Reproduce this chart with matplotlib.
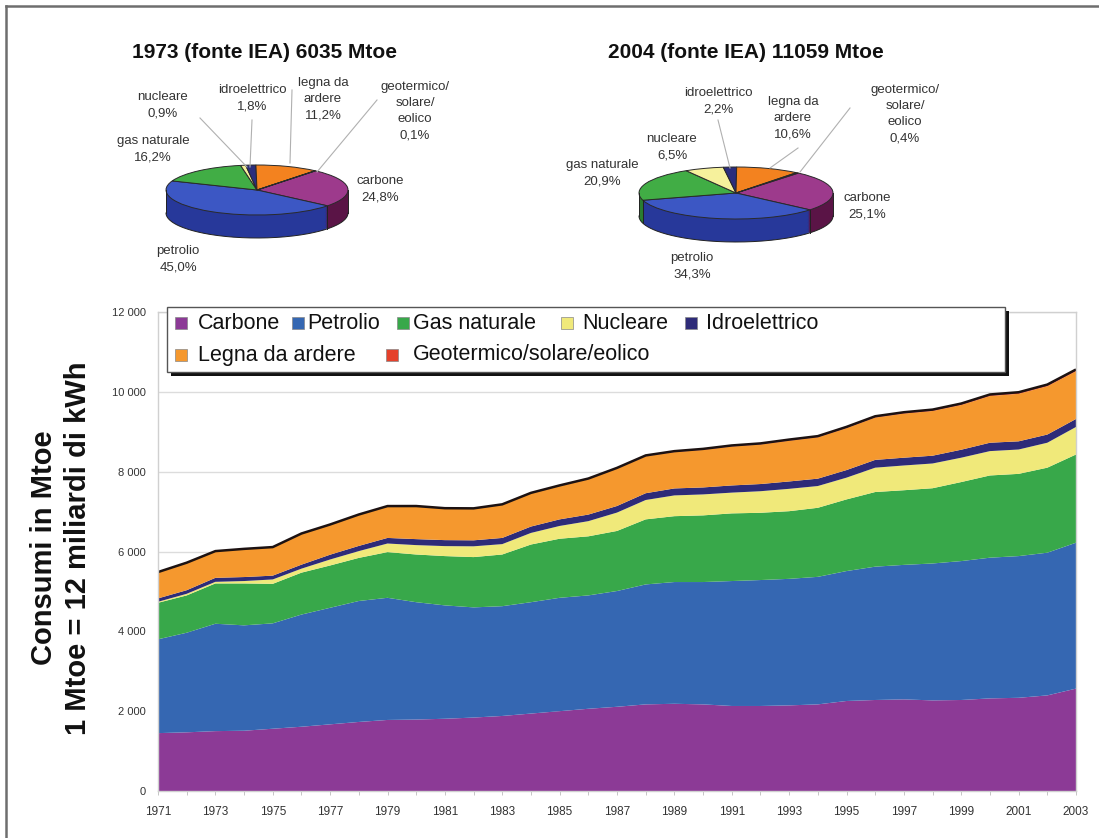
import numpy as np
import matplotlib
matplotlib.use("Agg")
import matplotlib.pyplot as plt
from matplotlib.patches import Rectangle
from matplotlib.lines import Line2D

plt.rcParams['font.family'] = ['Liberation Sans', 'DejaVu Sans']

# ---------------- data ----------------
years = list(range(1971, 2004))

carbone = [1450, 1470, 1500, 1510, 1560, 1610, 1670, 1730, 1780, 1790, 1810,
           1840, 1880, 1940, 2000, 2060, 2110, 2170, 2185, 2170, 2130, 2130,
           2145, 2170, 2255, 2280, 2295, 2270, 2280, 2320, 2335, 2395, 2565]
petrolio = [2350, 2495, 2690, 2640, 2640, 2810, 2920, 3030, 3060, 2940, 2840,
            2760, 2750, 2790, 2840, 2840, 2900, 3005, 3050, 3065, 3130, 3155,
            3170, 3195, 3255, 3340, 3370, 3430, 3480, 3525, 3550, 3575, 3655]
gas_naturale = [915, 935, 1010, 1050, 990, 1050, 1060, 1080, 1145, 1195, 1235,
                1260, 1295, 1445, 1480, 1480, 1505, 1630, 1650, 1670, 1695, 1685,
                1695, 1730, 1795, 1870, 1870, 1885, 1980, 2060, 2060, 2130, 2210]
nucleare = [25, 40, 40, 60, 110, 100, 150, 170, 215, 235, 250,
            270, 260, 290, 320, 380, 460, 485, 520, 525, 520, 540,
            560, 545, 545, 610, 620, 620, 610, 610, 610, 625, 690]
idroelettrico = [85, 90, 100, 100, 95, 100, 120, 130, 140, 150, 150,
                 150, 155, 160, 165, 165, 165, 170, 175, 175, 180, 180,
                 185, 185, 190, 195, 195, 195, 200, 210, 205, 205, 200]
legna = [655, 685, 665, 700, 710, 775, 750, 780, 790, 820, 790,
         790, 830, 830, 835, 885, 935, 925, 910, 940, 975, 990,
         1020, 1035, 1050, 1060, 1105, 1120, 1120, 1170, 1190, 1210, 1195]
geo_sol_eol = [5, 5, 5, 6, 6, 6, 7, 7, 8, 9, 10,
               11, 12, 14, 16, 18, 20, 22, 24, 26, 27, 28,
               29, 30, 32, 33, 34, 35, 37, 39, 40, 42, 45]

serie_nomi = ["Carbone", "Petrolio", "Gas naturale", "Nucleare",
              "Idroelettrico", "Legna da ardere", "Geotermico/solare/eolico"]
colori = ["#8c3a96", "#3567b2", "#38a84a", "#f0e97a", "#2e2b78",
          "#f5982e", "#e5412b"]

# pie shares (%), same order as the series
quote_1973 = [24.8, 45.0, 16.2, 0.9, 1.8, 11.2, 0.1]
quote_2004 = [25.1, 34.3, 20.9, 6.5, 2.2, 10.6, 0.4]
etichette_1973 = ["carbone\n24,8%", "petrolio\n45,0%", "gas naturale\n16,2%",
                  "nucleare\n0,9%", "idroelettrico\n1,8%",
                  "legna da\nardere\n11,2%", "geotermico/\nsolare/\neolico\n0,1%"]
etichette_2004 = ["carbone\n25,1%", "petrolio\n34,3%", "gas naturale\n20,9%",
                  "nucleare\n6,5%", "idroelettrico\n2,2%",
                  "legna da\nardere\n10,6%", "geotermico/\nsolare/\neolico\n0,4%"]
titolo_1973 = "1973 (fonte IEA) 6035 Mtoe"
titolo_2004 = "2004 (fonte IEA) 11059 Mtoe"

colori_torta = ["#9d3a8c", "#3c57c4", "#41ad45", "#f6f19c", "#2b2d7c",
                "#f3821f", "#d8321f"]
colori_lato = ["#5a1446", "#27389a", "#2a7d30", "#b9b460", "#1a1a50",
               "#b85a10", "#902010"]

# ---------------- figure ----------------
W, H = 1099, 838
fig = plt.figure(figsize=(W / 100, H / 100), dpi=100)
fig.patch.set_facecolor("white")


def fx(x):
    return x / W


def fy(y):
    return 1 - y / H


# outer frame (top and left edges)
fig.add_artist(Line2D([fx(6), fx(W)], [fy(6), fy(6)], color="#6e6e6e", lw=1.8))
fig.add_artist(Line2D([fx(6), fx(6)], [fy(6), fy(H)], color="#6e6e6e", lw=1.8))

START = 50


def torta_3d(quote, cx, cy, a, b, depth):
    ax = fig.add_axes([fx(cx - 1.3 * a), fy(cy + 1.3 * b + depth),
                       2.6 * a / W, (2.6 * b + depth) / H])
    dz_max = depth / b
    for dz in np.linspace(dz_max, 0, 30, endpoint=False):
        ax.pie(quote, colors=colori_lato, startangle=START, counterclock=False,
               center=(0, -dz), radius=1,
               wedgeprops=dict(linewidth=0))
    # outline of the visible (front) side: bottom rim and slice seams
    t = np.linspace(np.pi, 2 * np.pi, 200)
    ax.plot(np.cos(t), np.sin(t) - dz_max, color="#222222", lw=0.7)
    ax.plot([-1, -1], [0, -dz_max], color="#222222", lw=0.7)
    ax.plot([1, 1], [0, -dz_max], color="#222222", lw=0.7)
    cum = np.cumsum([0] + list(quote)) / np.sum(quote)
    for c in cum[1:-1]:
        ang = np.deg2rad(START - 360 * c)
        if np.sin(ang) < 0:
            ax.plot([np.cos(ang)] * 2, [np.sin(ang), np.sin(ang) - dz_max],
                    color="#222222", lw=0.7)
    ax.pie(quote, colors=colori_torta, startangle=START, counterclock=False,
           center=(0, 0), radius=1,
           wedgeprops=dict(linewidth=0.7, edgecolor="#2a2a2a"))
    ax.set_aspect("auto")
    ax.set_xlim(-1.3, 1.3)
    ax.set_ylim(-1.3 - dz_max, 1.3)
    ax.axis("off")
    return ax


torta_3d(quote_1973, 257, 190, 91, 25, 23)
torta_3d(quote_2004, 736, 193, 97, 26, 23)

fig.text(fx(264), fy(52), titolo_1973, ha="center", va="center",
         fontsize=15, fontweight="bold", color="#111111")
fig.text(fx(746), fy(52), titolo_2004, ha="center", va="center",
         fontsize=15, fontweight="bold", color="#111111")

lab_kw = dict(ha="center", va="center", fontsize=9.5, color="#333333",
              linespacing=1.45)
pos_1973 = [(380, 189), (178, 259), (153, 149), (163, 105), (252, 98),
            (323, 99), (415, 111)]
pos_2004 = [(867, 206), (692, 266), (602, 173), (672, 147), (718, 101),
            (793, 118), (905, 114)]
for (x, y), t in zip(pos_1973, etichette_1973):
    fig.text(fx(x), fy(y), t, **lab_kw)
for (x, y), t in zip(pos_2004, etichette_2004):
    fig.text(fx(x), fy(y), t, **lab_kw)

leader = [((200, 118), (247, 167)), ((252, 120), (250, 167)),
          ((292, 90), (290, 163)), ((377, 100), (317, 172)),
          ((718, 120), (730, 168)), ((798, 148), (770, 168)),
          ((850, 108), (800, 172))]
for (x0, y0), (x1, y1) in leader:
    fig.add_artist(Line2D([fx(x0), fx(x1)], [fy(y0), fy(y1)],
                          color="#b0b0b0", lw=0.8))

# ---------------- stacked area chart ----------------
ax = fig.add_axes([fx(158), fy(791), (1076 - 158) / W, (791 - 312) / H])
serie = [carbone, petrolio, gas_naturale, nucleare, idroelettrico, legna,
         geo_sol_eol]
ax.stackplot(years, *serie, colors=colori, linewidth=0)
totale = np.sum(np.array(serie), axis=0)
ax.plot(years, totale, color="#1c1212", lw=1.8, solid_capstyle="butt")

ax.set_xlim(1971, 2003)
ax.set_ylim(0, 12000)
ax.set_yticks(range(0, 12001, 2000))
ax.set_yticklabels([f"{v:,}".replace(",", " ") for v in range(0, 12001, 2000)])
ax.set_xticks(years)
ax.set_xticklabels([str(y) if (y - 1971) % 2 == 0 else "" for y in years])
ax.tick_params(axis="y", labelsize=8, length=0, pad=9)
ax.tick_params(axis="x", labelsize=8.5, length=3, width=0.6, pad=8,
               color="#bbbbbb")
for lbl in ax.get_xticklabels() + ax.get_yticklabels():
    lbl.set_color("#333333")
ax.grid(axis="y", color="#dcdcdc", lw=1)
ax.set_axisbelow(True)
for s in ax.spines.values():
    s.set_color("#d0d0d0")
    s.set_linewidth(1)

fig.text(fx(44), fy(548), "Consumi in Mtoe", rotation=90, ha="center",
         va="center", fontsize=21, fontweight="bold", color="#111111")
fig.text(fx(78), fy(548), "1 Mtoe = 12 miliardi di kWh", rotation=90,
         ha="center", va="center", fontsize=21, fontweight="bold",
         color="#111111")

# ---------------- legend box ----------------
box_l, box_t, box_r, box_b = 167, 307, 1005, 372
fig.add_artist(Rectangle((fx(box_l + 4), fy(box_b + 4)),
                         (box_r - box_l) / W, (box_b - box_t) / H,
                         facecolor="#111111", edgecolor="none"))
fig.add_artist(Rectangle((fx(box_l), fy(box_b)),
                         (box_r - box_l) / W, (box_b - box_t) / H,
                         facecolor="white", edgecolor="#555555", lw=1))

leg_pos = [(175, 323, 198), (292, 323, 307), (397, 323, 413), (561, 323, 582),
           (685, 323, 706), (175, 355, 198), (386, 355, 413)]
for (mx, my, tx), nome, col in zip(leg_pos, serie_nomi, colori):
    fig.add_artist(Rectangle((fx(mx), fy(my + 6)), 12 / W, 12 / H,
                             facecolor=col, edgecolor="#888888", lw=0.5))
    fig.text(fx(tx), fy(my), nome, ha="left", va="center", fontsize=15.5,
             color="#111111")

fig.savefig("out.png", dpi=100)
